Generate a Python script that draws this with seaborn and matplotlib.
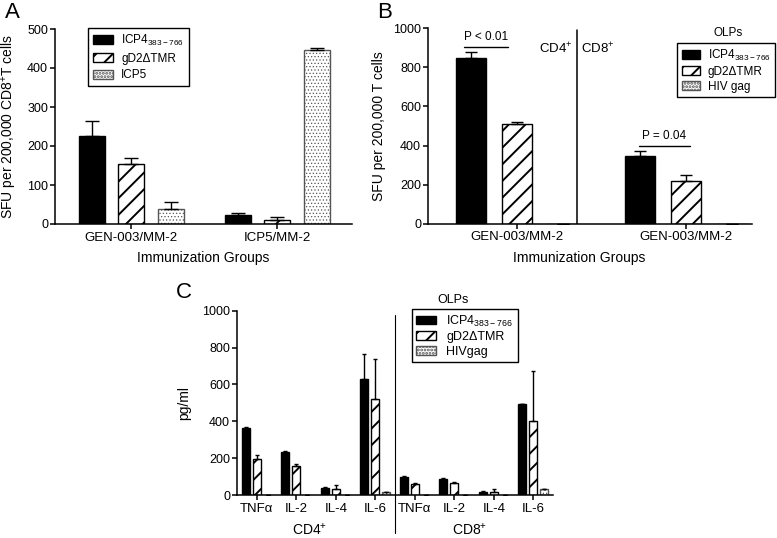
import numpy as np
import pandas as pd
import matplotlib.pyplot as plt
import seaborn as sns

# Panel A: SFU per 200,000 CD8+ T cells
a_groups = ["GEN-003/MM-2", "ICP5/MM-2"]
a_icp4 = [225, 24]
a_icp4_err = [38, 3]
a_gd2 = [153, 10]
a_gd2_err = [15, 8]
a_icp5 = [38, 445]
a_icp5_err = [19, 6]

# Panel B: SFU per 200,000 T cells (CD4+ | CD8+)
b_groups = ["CD4", "CD8"]
b_ticklabels = ["GEN-003/MM-2", "GEN-003/MM-2"]
b_icp4 = [846, 346]
b_icp4_err = [31, 26]
b_gd2 = [508, 220]
b_gd2_err = [12, 27]
b_hiv = [0, 0]
b_hiv_err = [0, 0]

# Panel C: cytokines pg/ml
c_groups = ["CD4 TNFa", "CD4 IL-2", "CD4 IL-4", "CD4 IL-6",
            "CD8 TNFa", "CD8 IL-2", "CD8 IL-4", "CD8 IL-6"]
c_ticklabels = ["TNFα", "IL-2", "IL-4", "IL-6"] * 2
c_icp4 = [365, 235, 40, 627, 96, 89, 18, 492]
c_icp4_err = [4, 2, 5, 138, 9, 3, 2, 3]
c_gd2 = [195, 159, 31, 519, 61, 67, 16, 403]
c_gd2_err = [20, 9, 21, 217, 6, 5, 18, 272]
c_hiv = [0, 0, 0, 14, 0, 0, 0, 33]
c_hiv_err = [0, 0, 0, 0, 0, 0, 0, 0]

lbl_icp4 = "ICP4$_{\\mathregular{383-766}}$"
lbl_gd2 = "gD2ΔTMR"

sns.set_theme(style="ticks", rc={
    "axes.linewidth": 1.1, "axes.edgecolor": "black",
    "xtick.major.width": 1.1, "ytick.major.width": 1.1,
    "xtick.major.size": 3.5, "ytick.major.size": 3.5,
    "xtick.major.pad": 2, "ytick.major.pad": 1.5,
    "xtick.color": "black", "ytick.color": "black", "text.color": "black",
    "axes.labelcolor": "black", "xtick.labelsize": 9.5, "ytick.labelsize": 9,
    "hatch.linewidth": 1.4,
})
plt.rcParams["font.family"] = ["Liberation Sans", "DejaVu Sans"]
plt.rcParams["mathtext.fontset"] = "custom"
plt.rcParams["mathtext.rm"] = "Liberation Sans"
plt.rcParams["mathtext.it"] = "Liberation Sans:italic"
plt.rcParams["mathtext.bf"] = "Liberation Sans:bold"


def bar_panel(ax, groups, series, errs, names, width, gap, capsize):
    rows = []
    for name, vals in zip(names, series):
        for g, v in zip(groups, vals):
            rows.append({"group": g, "antigen": name, "value": v})
    df = pd.DataFrame(rows)
    pal = dict(zip(names, ["black", "white", "white"]))
    sns.barplot(data=df, x="group", y="value", hue="antigen", order=groups,
                hue_order=names, palette=pal, width=width, gap=gap,
                errorbar=None, saturation=1, edgecolor="black", linewidth=1,
                legend=False, ax=ax)
    bars = list(ax.containers)
    hatches = [None, "//", "....."]
    edges = ["black", "black", "#555555"]
    hatch_lw = [1.4, 1.4, 0.5]
    for cont, h, ec, hlw, err in zip(bars, hatches, edges, hatch_lw, errs):
        xs, ys = [], []
        for p in cont:
            if h:
                p.set_hatch(h)
                if hasattr(p, "set_hatch_linewidth"):
                    p.set_hatch_linewidth(hlw)
            p.set_edgecolor(ec)
            xs.append(p.get_x() + p.get_width() / 2)
            ys.append(p.get_height())
        ax.errorbar(xs, ys, yerr=[np.zeros(len(err)), err], fmt="none",
                    ecolor="black", elinewidth=1, capsize=capsize,
                    capthick=1, zorder=3)
    sns.despine(ax=ax)
    ax.set_xlabel("")
    ax.set_ylabel("")
    return bars


fig = plt.figure(figsize=(7.77, 5.38), dpi=100)
W, H = 777, 538

# ---- A ----
axA = fig.add_axes([55 / W, 1 - 224 / H, 297 / W, 195 / H])
barsA = bar_panel(axA, a_groups, [a_icp4, a_gd2, a_icp5],
                  [a_icp4_err, a_gd2_err, a_icp5_err],
                  [lbl_icp4, lbl_gd2, "ICP5"], 0.81, 0.34, 5)
axA.set_ylim(0, 500)
axA.set_yticks(range(0, 501, 100))
axA.set_xlim(-0.52, 1.51)
axA.set_xlabel("Immunization Groups", fontsize=10)
axA.xaxis.set_label_coords(0.5, -0.14)
axA.set_ylabel("SFU per 200,000 CD8$^{+}$T cells", fontsize=10)
axA.yaxis.set_label_coords(-0.12, 0.5)
axA.legend(barsA, [lbl_icp4, lbl_gd2, "ICP5"], loc="upper left",
           bbox_to_anchor=(0.111, 1.005), borderaxespad=0, fontsize=8.5,
           frameon=True, fancybox=False, framealpha=1, edgecolor="black",
           handlelength=1.7, handleheight=0.8, handletextpad=0.7,
           borderpad=0.4, labelspacing=0.4)
axA.get_legend().get_frame().set_linewidth(1)

# ---- B ----
axB = fig.add_axes([428 / W, 1 - 223.7 / H, 324 / W, 195.4 / H])
barsB = bar_panel(axB, b_groups, [b_icp4, b_gd2, b_hiv],
                  [b_icp4_err, b_gd2_err, b_hiv_err],
                  [lbl_icp4, lbl_gd2, "HIV gag"], 0.81, 0.34, 4.3)
axB.set_ylim(0, 1000)
axB.set_yticks(range(0, 1001, 200))
axB.set_xlim(-0.525, 1.39)
axB.set_xticks([0, 1])
axB.set_xticklabels(b_ticklabels)
axB.set_xlabel("Immunization Groups", fontsize=10)
axB.xaxis.set_label_coords(0.466, -0.14)
axB.set_ylabel("SFU per 200,000 T cells", fontsize=10)
axB.yaxis.set_label_coords(-0.13, 0.5)
axB.axvline(0.355, ymin=0, ymax=0.99, color="black", lw=1.1)
axB.text(0.33, 894, "CD4$^{+}$", ha="right", va="center", fontsize=9.5)
axB.text(0.38, 894, "CD8$^{+}$", ha="left", va="center", fontsize=9.5)
axB.plot([-0.31, -0.05], [906, 906], color="black", lw=1)
axB.text(-0.18, 925, "P < 0.01", ha="center", va="bottom", fontsize=8.5)
axB.plot([0.72, 1.025], [399, 399], color="black", lw=1)
axB.text(0.87, 418, "P = 0.04", ha="center", va="bottom", fontsize=8.5)
axB.text(0.926, 0.976, "OLPs", transform=axB.transAxes, ha="center",
         va="center", fontsize=8.5)
axB.legend(barsB, [lbl_icp4, lbl_gd2, "HIV gag"], loc="upper left",
           bbox_to_anchor=(0.769, 0.925), borderaxespad=0, fontsize=8.5,
           frameon=True, fancybox=False, framealpha=1, edgecolor="black",
           handlelength=1.5, handleheight=0.7, handletextpad=0.7,
           borderpad=0.4, labelspacing=0.25)
axB.get_legend().get_frame().set_linewidth(1)

# ---- C ----
axC = fig.add_axes([237 / W, 1 - 495 / H, 316 / W, 184.3 / H])
barsC = bar_panel(axC, c_groups, [c_icp4, c_gd2, c_hiv],
                  [c_icp4_err, c_gd2_err, c_hiv_err],
                  [lbl_icp4, lbl_gd2, "HIVgag"], 0.83, 0.30, 1.3)
axC.set_ylim(0, 1000)
axC.set_yticks(range(0, 1001, 200))
axC.set_xlim(-0.5, 7.5)
axC.set_xticks(range(8))
axC.set_xticklabels(c_ticklabels)
axC.set_ylabel("pg/ml", fontsize=10)
axC.yaxis.set_label_coords(-0.145, 0.5)
axC.axvline(3.5, ymin=-0.205, ymax=0.975, color="black", lw=0.8,
            clip_on=False)
axC.text(1.35, -0.19, "CD4$^{+}$", transform=axC.get_xaxis_transform(),
         ha="center", va="center", fontsize=10)
axC.text(5.4, -0.19, "CD8$^{+}$", transform=axC.get_xaxis_transform(),
         ha="center", va="center", fontsize=10)
axC.text(0.684, 1.058, "OLPs", transform=axC.transAxes, ha="center",
         va="center", fontsize=9)
axC.legend(barsC, [lbl_icp4, lbl_gd2, "HIVgag"], loc="upper left",
           bbox_to_anchor=(0.554, 1.009), borderaxespad=0, fontsize=9,
           frameon=True, fancybox=False, framealpha=1, edgecolor="black",
           handlelength=1.6, handleheight=0.7, handletextpad=0.8,
           borderpad=0.35, labelspacing=0.2)
axC.get_legend().get_frame().set_linewidth(1)

# panel letters
fig.text(12 / W, 1 - 13 / H, "A", fontsize=16, ha="center", va="center")
fig.text(385 / W, 1 - 13 / H, "B", fontsize=16, ha="center", va="center")
fig.text(184 / W, 1 - 292 / H, "C", fontsize=16, ha="center", va="center")

fig.savefig("out.png", dpi=100)
